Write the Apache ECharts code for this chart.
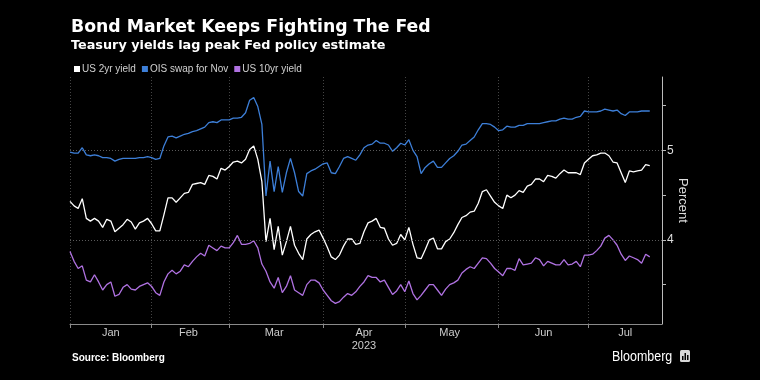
<!DOCTYPE html>
<html>
<head>
<meta charset="utf-8">
<script src="https://cdn.jsdelivr.net/npm/echarts@6/dist/echarts.min.js"></script>
<style>
html,body{margin:0;padding:0;background:#000;}
#chart{width:760px;height:380px;}
</style>
</head>
<body>
<div id="chart"></div>
<script>
// ---- data ----
var monthNames = ['Jan', 'Feb', 'Mar', 'Apr', 'May', 'Jun', 'Jul'];
var monthTradingDays = [20, 19, 23, 20, 23, 22, 19];
var yearLabel = '2023';
var seriesNames = ['US 2yr yield', 'OIS swap for Nov', 'US 10yr yield'];

var us2yr = [
  4.43, 4.38, 4.35, 4.46, 4.24, 4.21, 4.24, 4.21, 4.14, 4.23, 4.21, 4.09, 4.13, 4.17, 4.23, 4.20, 4.12, 4.19, 4.21, 4.24, 4.18, 4.10, 4.10, 4.28, 4.47,
  4.47, 4.42, 4.47, 4.52, 4.53, 4.62, 4.63, 4.64, 4.62, 4.72, 4.71, 4.68, 4.80, 4.78, 4.82, 4.87, 4.88, 4.86, 4.90, 5.01, 5.05, 4.90, 4.65, 3.98,
  4.24, 3.89, 4.15, 3.83, 3.98, 4.15, 3.94, 3.85, 3.78, 4.01, 4.06, 4.09, 4.11, 4.02, 3.92, 3.81, 3.78, 3.83, 3.93, 4.01, 4.01, 3.95, 3.96, 4.09, 4.19,
  4.21, 4.24, 4.14, 4.13, 4.01, 3.94, 3.96, 4.06, 4.00, 4.14, 3.95, 3.80, 3.79, 3.89, 4.00, 4.02, 3.90, 3.90, 3.98, 4.01, 4.08, 4.17, 4.25, 4.27,
  4.31, 4.32, 4.41, 4.54, 4.56, 4.49, 4.42, 4.38, 4.35, 4.50, 4.47, 4.50, 4.55, 4.53, 4.60, 4.62, 4.68, 4.68, 4.65, 4.72, 4.71, 4.69, 4.74, 4.78, 4.75,
  4.75, 4.75, 4.73, 4.86, 4.90, 4.94, 4.95, 4.97, 4.97, 4.94, 4.87, 4.86, 4.75, 4.64, 4.77, 4.76, 4.77, 4.78, 4.84, 4.83
];

var oisNov = [
  4.98, 4.97, 4.97, 5.03, 4.95, 4.94, 4.95, 4.94, 4.92, 4.92, 4.91, 4.88, 4.90, 4.91, 4.91, 4.91, 4.91, 4.92, 4.92, 4.93, 4.92, 4.90, 4.91, 5.05, 5.15,
  5.16, 5.14, 5.16, 5.18, 5.19, 5.21, 5.22, 5.24, 5.26, 5.31, 5.32, 5.31, 5.34, 5.34, 5.34, 5.36, 5.36, 5.37, 5.42, 5.56, 5.59, 5.49, 5.29, 4.49,
  4.88, 4.54, 4.82, 4.53, 4.75, 4.91, 4.75, 4.54, 4.49, 4.74, 4.77, 4.79, 4.82, 4.85, 4.86, 4.75, 4.74, 4.82, 4.91, 4.93, 4.91, 4.89, 4.95, 5.03, 5.06,
  5.07, 5.11, 5.08, 5.08, 5.06, 4.99, 5.03, 5.08, 5.06, 5.12, 5.00, 4.93, 4.74, 4.81, 4.85, 4.88, 4.81, 4.81, 4.86, 4.91, 4.94, 4.99, 5.06, 5.07,
  5.11, 5.15, 5.23, 5.30, 5.30, 5.29, 5.26, 5.22, 5.23, 5.27, 5.26, 5.26, 5.28, 5.28, 5.30, 5.30, 5.30, 5.30, 5.31, 5.32, 5.33, 5.33, 5.35, 5.36, 5.35,
  5.35, 5.37, 5.38, 5.44, 5.43, 5.43, 5.43, 5.44, 5.46, 5.45, 5.44, 5.45, 5.41, 5.39, 5.43, 5.43, 5.43, 5.44, 5.44, 5.44
];

var us10yr = [
  3.87, 3.76, 3.68, 3.71, 3.55, 3.53, 3.61, 3.53, 3.44, 3.50, 3.53, 3.37, 3.39, 3.47, 3.50, 3.45, 3.44, 3.48, 3.50, 3.52, 3.48, 3.41, 3.38, 3.53, 3.62,
  3.66, 3.62, 3.65, 3.72, 3.70, 3.76, 3.81, 3.85, 3.82, 3.94, 3.91, 3.88, 3.93, 3.91, 3.91, 3.97, 4.05, 3.95, 3.95, 3.96, 3.99, 3.91, 3.73, 3.65,
  3.53, 3.46, 3.58, 3.41, 3.48, 3.60, 3.44, 3.41, 3.38, 3.50, 3.55, 3.55, 3.52, 3.44, 3.38, 3.32, 3.29, 3.31, 3.36, 3.40, 3.38, 3.42, 3.48, 3.53, 3.60,
  3.58, 3.58, 3.53, 3.55, 3.47, 3.39, 3.43, 3.50, 3.42, 3.54, 3.40, 3.33, 3.38, 3.44, 3.50, 3.50, 3.44, 3.38, 3.45, 3.50, 3.52, 3.55, 3.63, 3.67,
  3.70, 3.68, 3.74, 3.80, 3.79, 3.74, 3.68, 3.64, 3.60, 3.68, 3.68, 3.66, 3.79, 3.72, 3.73, 3.74, 3.80, 3.78, 3.71, 3.76, 3.74, 3.72, 3.72, 3.78, 3.72,
  3.73, 3.76, 3.70, 3.83, 3.83, 3.84, 3.88, 3.93, 4.02, 4.05, 4.00, 3.94, 3.84, 3.77, 3.82, 3.80, 3.78, 3.74, 3.84, 3.81
];

var yTickValues = [3.5, 4, 4.5, 5, 5.5];
var yLabelValues = [4, 5];

// ---- build category axis (trading days) ----
var categories = [];
var monthStartIdx = {};
var monthLabelIdx = {};
(function () {
  var idx = 0;
  for (var m = 0; m < monthNames.length; m++) {
    monthStartIdx[idx] = true;
    monthLabelIdx[idx + Math.floor(monthTradingDays[m] / 2)] = monthNames[m];
    for (var d = 0; d < monthTradingDays[m]; d++) {
      categories.push(monthNames[m] + ' ' + (d + 1));
      idx++;
    }
  }
})();

var colors = ['#ffffff', '#3d7fd8', '#b072e2'];

var chart = echarts.init(document.getElementById('chart'), null, {renderer: 'canvas'});
var option = {
  backgroundColor: '#000000',
  animation: false,
  textStyle: {fontFamily: 'Liberation Sans'},
  graphic: [
    {type: 'text', left: 71, top: 19, style: {text: 'Bond Market Keeps Fighting The Fed', fill: '#ffffff', font: 'bold 17.3px "DejaVu Sans"'}},
    {type: 'text', left: 71, top: 39, style: {text: 'Teasury yields lag peak Fed policy estimate', fill: '#ffffff', font: 'bold 12.8px "DejaVu Sans"'}},
    {type: 'text', left: 72, top: 353, style: {text: 'Source: Bloomberg', fill: '#ffffff', font: 'bold 10px "Liberation Sans"'}},
    {type: 'text', x: 612, y: 349, scaleX: 0.83, style: {text: 'Bloomberg', fill: '#ffffff', font: '15px "Liberation Sans"'}},
    {type: 'rect', left: 680, top: 350, shape: {width: 10, height: 12, r: 1.5}, style: {fill: '#d8d8d8'}},
    {type: 'rect', left: 682, top: 356, shape: {width: 1.5, height: 4}, style: {fill: '#000'}},
    {type: 'rect', left: 684.5, top: 353, shape: {width: 1.5, height: 7}, style: {fill: '#000'}},
    {type: 'rect', left: 687, top: 355, shape: {width: 1.5, height: 5}, style: {fill: '#000'}}
  ],
  legend: {
    left: 69, top: 59,
    icon: 'rect', itemWidth: 6, itemHeight: 6, itemGap: 6,
    textStyle: {color: '#d0d0d0', fontSize: 10, padding: [0, 0, 0, -3]},
    data: seriesNames
  },
  grid: {left: 70, right: 98, top: 77, bottom: 56, containLabel: false},
  xAxis: {
    type: 'category',
    data: categories,
    boundaryGap: false,
    axisLine: {show: true, lineStyle: {color: '#8a8a8a', width: 1}},
    axisTick: {
      show: true, length: 4, lineStyle: {color: '#8a8a8a'},
      interval: function (i) { return !!monthStartIdx[i]; }
    },
    axisLabel: {
      color: '#cccccc', fontSize: 11, margin: 3, lineHeight: 12.5,
      interval: function (i) { return monthLabelIdx[i] !== undefined; },
      formatter: function (v, i) {
        var name = monthLabelIdx[i];
        return name === 'Apr' ? name + '\n' + yearLabel : name;
      }
    },
    splitLine: {
      show: true,
      interval: function (i) { return !!monthStartIdx[i]; },
      lineStyle: {color: '#444444', type: [1, 2], width: 1}
    }
  },
  yAxis: {
    type: 'value',
    position: 'right',
    min: 3.06, max: 5.82,
    name: 'Percent', nameLocation: 'middle', nameRotate: -90, nameGap: 14,
    nameMoveOverlap: false,
    nameTextStyle: {color: '#dddddd', fontSize: 13},
    axisLine: {show: true, lineStyle: {color: '#bbbbbb', width: 1}},
    axisTick: {show: true, length: 4, lineStyle: {color: '#bbbbbb'}, customValues: yTickValues},
    axisLabel: {color: '#dddddd', fontSize: 12, margin: 5, customValues: yLabelValues},
    splitLine: {show: false}
  },
  series: [
    {
      name: seriesNames[0], type: 'line', data: us2yr, showSymbol: false,
      lineStyle: {color: colors[0], width: 1.3}, itemStyle: {color: colors[0]},
      markLine: {
        silent: true, symbol: 'none', label: {show: false},
        lineStyle: {color: '#5a5a5a', type: [1, 2], width: 1},
        data: [{yAxis: 4}, {yAxis: 5}]
      },
      z: 3
    },
    {
      name: seriesNames[1], type: 'line', data: oisNov, showSymbol: false,
      lineStyle: {color: colors[1], width: 1.3}, itemStyle: {color: colors[1]}, z: 3
    },
    {
      name: seriesNames[2], type: 'line', data: us10yr, showSymbol: false,
      lineStyle: {color: colors[2], width: 1.3}, itemStyle: {color: colors[2]}, z: 3
    }
  ]
};
chart.setOption(option);
</script>
</body>
</html>
